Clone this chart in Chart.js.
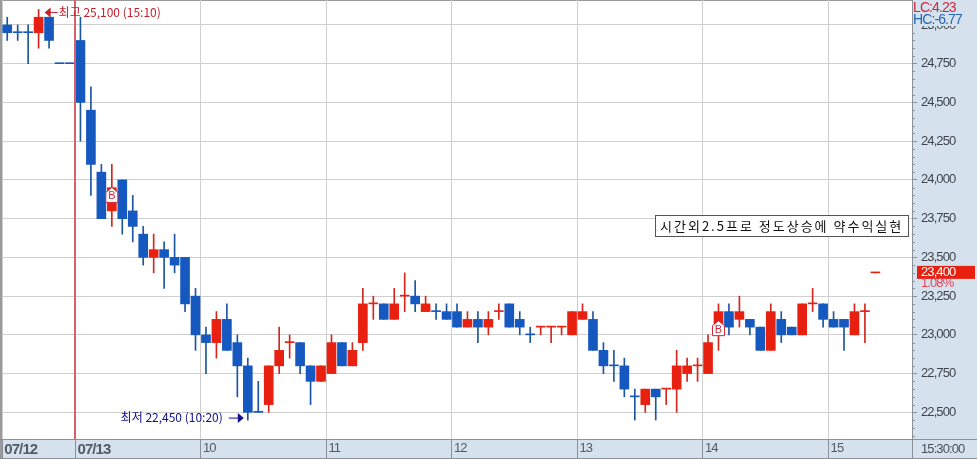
<!DOCTYPE html>
<html>
<head>
<meta charset="utf-8">
<style>
  html, body { margin: 0; padding: 0; background: #fff; }
  #chart { display: block; }
</style>
<script src="https://cdn.jsdelivr.net/npm/chart.js@4/dist/chart.umd.min.js"></script>
</head>
<body>
<canvas id="chart" width="977" height="459"></canvas>
<script>
const opens = [25000,24950,24950,24950,25050,24750,24750,24900,24450,24050,23800,24000,23800,23650,23500,23550,23500,23500,23250,23000,22950,23100,22950,22800,22500,22550,22800,22950,22950,22800,22700,22750,22950,22800,22950,23200,23200,23100,23250,23250,23150,23150,23150,23150,23050,23100,23050,23150,23200,23100,23000,23050,23050,23050,23000,23100,23100,22900,22800,22800,22600,22550,22650,22650,22650,22750,22800,22750,23000,23150,23100,23100,23050,22900,23100,23050,23000,23200,23200,23100,23100,23000,23150,23400];
const highs = [25050,25000,25000,25100,25050,24750,24750,25050,24600,24100,24100,24000,23900,23700,23650,23600,23650,23500,23300,23050,23150,23200,23000,22850,22700,22800,23050,23000,22950,22800,22800,23000,22950,22950,23300,23250,23200,23300,23400,23350,23250,23200,23200,23200,23150,23150,23150,23200,23200,23150,23050,23050,23050,23050,23150,23200,23150,22950,22900,22850,22650,22650,22650,22650,22900,22850,22850,23000,23200,23200,23250,23100,23050,23200,23150,23050,23200,23300,23200,23150,23100,23200,23200,23400];
const lows = [24900,24900,24750,24850,24850,24750,24750,24250,23900,23750,23700,23650,23600,23450,23400,23300,23400,23150,22900,22750,22850,22900,22600,22450,22500,22500,22750,22850,22750,22550,22700,22750,22800,22800,22900,23100,23100,23100,23150,23150,23150,23100,23100,23050,23050,22950,23000,23100,23050,23000,22950,23000,22950,23000,23000,23100,22900,22750,22700,22600,22450,22500,22450,22550,22500,22700,22700,22750,22900,23000,23050,23000,22900,22900,22950,23000,23000,23150,23050,23050,22900,23000,22950,23400];
const closes = [24950,24950,24950,25050,24900,24750,24750,24500,24100,23750,23950,23750,23700,23500,23550,23500,23450,23200,23000,22950,23100,22900,22800,22500,22500,22800,22900,22950,22800,22700,22800,22950,22800,22900,23200,23200,23100,23200,23250,23200,23200,23150,23100,23050,23100,23050,23100,23150,23050,23050,23000,23050,23050,23050,23150,23150,22900,22800,22800,22650,22600,22650,22600,22650,22800,22800,22800,22950,23150,23050,23150,23050,22900,23150,23000,23000,23200,23200,23100,23050,23050,23150,23150,23400];
const redDoji = [27,35,38,47,51,52,53,63,66,77,82,83];

const slotCount = 87;
const tickIndexes = [0,7,19,31,43,55,67,79];
const tickNames = ['07/12','07/13','10','11','12','13','14','15'];
const dayBreak = 7;
const priceTicks = [22500,22750,23000,23250,23500,23750,24000,24250,24500,24750,25000];

const buyIndexes = [10,68];
const buyPrices = [23900,23040];
const highText = '최고 25,100 (15:10)';
const highIndex = 3;
const highPrice = 25100;
const lowText = '최저 22,450 (10:20)';
const lowIndex = 23;
const lowPrice = 22450;
const noteText = '시간외2.5프로 정도상승에 약수익실현';
const lastPrice = 23400;
const lastPct = '1.08%';
const lcText = 'LC:4.23';
const hcText = 'HC:-6.77';
const timeText = '15:30:00';

const RED = '#e8200f';
const BLUE = '#1558c0';
const WICK_RED = '#d4261c';
const WICK_BLUE = '#1c569f';
const PANEL = '#d6e1ee';
const EDGE = '#8b9199';
const GRID = '#cfcfcf';
const DAY_LINE = '#d2636a';
const SANS = '"Liberation Sans", sans-serif';
const KOREAN = '"Noto Sans CJK KR", sans-serif';

const categories = Array.from({ length: slotCount }, (_, i) => String(i));
const isRed = i => closes[i] > opens[i] || redDoji.includes(i);
const fmt = v => v.toLocaleString('en-US');

// panels behind the axes, texts and markers over the candles
const panelPlugin = {
  id: 'panels',
  beforeDraw(chart) {
    const { ctx, chartArea: a, width, height } = chart;
    ctx.save();
    ctx.fillStyle = '#fff';
    ctx.fillRect(0, 0, width, height);
    ctx.fillStyle = PANEL;
    ctx.fillRect(a.right, 0, width - a.right, height);
    ctx.fillRect(0, a.bottom, width, height - a.bottom);
    ctx.fillStyle = '#9a9a9a';
    ctx.fillRect(0, 0, 2, height);
    ctx.fillRect(0, 0, width, 1);
    ctx.restore();
    // the reference axis digits are narrow, squeeze them a little
    ctx.letterSpacing = '-0.9px';
  },
  afterDraw(chart) {
    const { ctx, chartArea: a, width, height, scales } = chart;
    const x = scales.x, y = scales.y;
    ctx.save();
    ctx.letterSpacing = '0px';

    // day break line, just left of the first 07/13 candle
    const half = (x.getPixelForValue(1) - x.getPixelForValue(0)) / 2;
    ctx.fillStyle = DAY_LINE;
    ctx.fillRect(Math.floor(x.getPixelForValue(dayBreak) - half) - 1, a.top, 2, a.bottom - a.top);

    // minor ticks on the price axis
    ctx.strokeStyle = EDGE;
    ctx.lineWidth = 1;
    ctx.beginPath();
    for (let v = 22350; v < 25150; v += 50) {
      if (v % 250 === 0) continue;
      const py = Math.round(y.getPixelForValue(v)) + 0.5;
      ctx.moveTo(a.right, py);
      ctx.lineTo(a.right + 3, py);
    }
    ctx.stroke();

    // bottom panel edges
    ctx.fillStyle = EDGE;
    ctx.fillRect(0, a.bottom, width, 1);
    ctx.fillRect(0, height - 1, width, 1);
    ctx.fillRect(a.right, a.bottom, 1, height - a.bottom);
    ctx.textBaseline = 'middle';
    ctx.fillStyle = '#4a4f57';
    ctx.font = '13px ' + SANS;
    ctx.letterSpacing = '-0.9px';
    ctx.fillText(timeText, a.right + 9, 449);

    // LC / HC sit on a patch that hides the top of the 25,000 label
    ctx.fillStyle = PANEL;
    ctx.fillRect(a.right + 1, 0, width - a.right, 26);
    ctx.font = '14px ' + SANS;
    ctx.letterSpacing = '-0.9px';
    ctx.fillStyle = '#d0283a';
    ctx.fillText(lcText, a.right + 1, 8);
    ctx.fillStyle = '#2466b4';
    ctx.fillText(hcText, a.right + 1, 20);

    // last price box
    const lastY = y.getPixelForValue(lastPrice);
    ctx.fillStyle = RED;
    ctx.fillRect(a.right + 5, lastY - 7, 58, 13);
    ctx.fillStyle = '#fff';
    ctx.font = '13px ' + SANS;
    ctx.letterSpacing = '-0.9px';
    ctx.fillText(fmt(lastPrice), a.right + 9, lastY);
    ctx.fillStyle = '#e04458';
    ctx.fillText(lastPct, a.right + 9, lastY + 11);
    ctx.letterSpacing = '0px';

    // high and low labels
    const hx = x.getPixelForValue(highIndex) + 6;
    const hy = y.getPixelForValue(highPrice) + 3;
    ctx.strokeStyle = ctx.fillStyle = '#c4202c';
    ctx.beginPath();
    ctx.moveTo(hx, hy);
    ctx.lineTo(hx + 6, hy - 5);
    ctx.lineTo(hx + 6, hy + 5);
    ctx.fill();
    ctx.fillRect(hx + 5, hy - 0.5, 8, 1);
    ctx.font = '12px ' + KOREAN;
    ctx.fillText(highText, hx + 14, hy);

    const lx = x.getPixelForValue(lowIndex) - 4;
    const ly = y.getPixelForValue(lowPrice) - 2;
    ctx.fillStyle = '#10108c';
    ctx.beginPath();
    ctx.moveTo(lx, ly);
    ctx.lineTo(lx - 6, ly - 5);
    ctx.lineTo(lx - 6, ly + 5);
    ctx.fill();
    ctx.fillRect(lx - 15, ly - 0.5, 10, 1);
    ctx.textAlign = 'right';
    ctx.fillText(lowText, lx - 21, ly - 1);
    ctx.textAlign = 'left';

    // buy markers
    buyIndexes.forEach((idx, n) => {
      const mx = x.getPixelForValue(idx);
      const my = y.getPixelForValue(buyPrices[n]);
      ctx.beginPath();
      ctx.moveTo(mx, my - 8);
      ctx.lineTo(mx + 6, my - 3);
      ctx.lineTo(mx + 6, my + 7);
      ctx.lineTo(mx - 6, my + 7);
      ctx.lineTo(mx - 6, my - 3);
      ctx.closePath();
      ctx.fillStyle = '#fff';
      ctx.fill();
      ctx.strokeStyle = '#d0283a';
      ctx.stroke();
      ctx.fillStyle = '#d0283a';
      ctx.font = '11px ' + SANS;
      ctx.textAlign = 'center';
      ctx.fillText('B', mx, my + 1);
      ctx.textAlign = 'left';
    });

    // note box
    ctx.fillStyle = '#fff';
    ctx.fillRect(655, 215, 254, 22);
    ctx.strokeStyle = '#555';
    ctx.strokeRect(655.5, 215.5, 253, 21);
    ctx.fillStyle = '#111';
    ctx.font = '13px ' + KOREAN;
    ctx.letterSpacing = '2px';
    ctx.fillText(noteText, 660, 226);
    ctx.letterSpacing = '0px';
    ctx.restore();
  }
};

new Chart(document.getElementById('chart'), {
  type: 'bar',
  plugins: [panelPlugin],
  data: {
    labels: categories,
    datasets: [
      {
        label: 'body',
        data: categories.map((_, i) => i < opens.length ? [opens[i], closes[i]] : null),
        backgroundColor: opens.map((_, i) => isRed(i) ? RED : BLUE),
        barThickness: 9,
        minBarLength: 1,
        grouped: false,
        order: 1
      },
      {
        label: 'wick',
        data: categories.map((_, i) => i < opens.length ? [lows[i], highs[i]] : null),
        backgroundColor: opens.map((_, i) => isRed(i) ? WICK_RED : WICK_BLUE),
        barThickness: 1,
        grouped: false,
        order: 2
      }
    ]
  },
  options: {
    responsive: false,
    animation: false,
    devicePixelRatio: 1,
    layout: { autoPadding: false, padding: { left: 2, right: 0, top: 0, bottom: 0 } },
    plugins: { legend: { display: false }, tooltip: { enabled: false } },
    scales: {
      x: {
        type: 'category',
        offset: true,
        afterFit(s) { s.height = 20; s.paddingLeft = 0; s.paddingRight = 0; },
        border: { display: false },
        grid: {
          offset: true,
          tickLength: 19,
          color: c => c.index !== dayBreak && tickIndexes.includes(c.index) ? GRID : 'transparent',
          tickColor: c => tickIndexes.includes(c.index) ? EDGE : 'transparent'
        },
        ticks: {
          autoSkip: false,
          maxRotation: 0,
          minRotation: 0,
          align: 'start',
          padding: -17,
          labelOffset: -3,
          color: '#555b63',
          font: c => c.index <= dayBreak
            ? { family: SANS, size: 15, weight: 'bold' }
            : { family: SANS, size: 13, weight: 'normal' },
          callback: (v, i) => {
            const at = tickIndexes.indexOf(i);
            return at >= 0 ? tickNames[at] : '';
          }
        }
      },
      y: {
        position: 'right',
        min: 22328,
        max: 25161,
        afterFit(s) { s.width = 65; s.paddingTop = 0; s.paddingBottom = 0; },
        afterBuildTicks(s) { s.ticks = priceTicks.map(v => ({ value: v })); },
        border: { color: EDGE },
        grid: { color: GRID, tickColor: EDGE, tickLength: 5 },
        ticks: {
          padding: 4,
          color: '#3f444c',
          font: { family: SANS, size: 13 },
          callback: v => fmt(v)
        }
      }
    }
  }
});
</script>
</body>
</html>
